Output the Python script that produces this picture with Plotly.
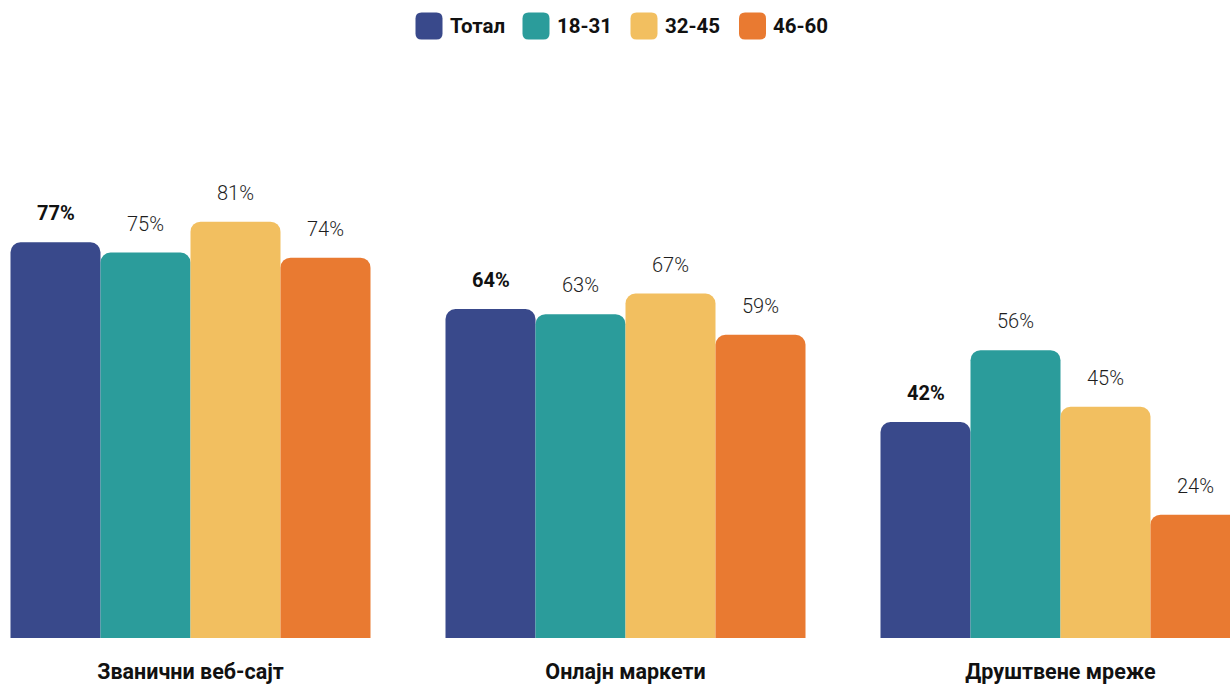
import plotly.graph_objects as go

categories = ["Званични веб-сајт", "Онлајн маркети", "Друштвене мреже"]
series_names = ["Тотал", "18-31", "32-45", "46-60"]
total = [77, 64, 42]
age_18_31 = [75, 63, 56]
age_32_45 = [81, 67, 45]
age_46_60 = [74, 59, 24]
series_values = [total, age_18_31, age_32_45, age_46_60]

colors = ["#39498b", "#2b9c9b", "#f2bf60", "#e97a31"]
FONT = "Roboto"

W, H = 1230, 684
M_T, M_B = 124, 43
GROUP_PX = 435.0
CENTER0_PX = 190.5
BARGAP = 75.0 / GROUP_PX

fig = go.Figure()
for name, vals, col in zip(series_names, series_values, colors):
    fig.add_trace(go.Bar(
        x=categories, y=vals, name=name,
        marker=dict(color=col, cornerradius=10, line=dict(width=0)),
        showlegend=False, hoverinfo="skip",
    ))

# value labels
w = 1 - BARGAP
n = len(series_names)
annotations = []
for k, (name, vals) in enumerate(zip(series_names, series_values)):
    off = -w / 2 + (k + 0.5) * w / n
    for ci, v in enumerate(vals):
        bold = (k == 0)
        annotations.append(dict(
            x=ci + off, y=v, xref="x", yref="y",
            text=f"{v}%", showarrow=False,
            yanchor="middle", yshift=29,
            font=dict(family=FONT, size=20, color="#111111" if bold else "#1e1e1e",
                      weight=700 if bold else 300),
        ))

# manual legend
leg_sq_centers = [429, 536, 644, 752.5]
leg_text_left = [448, 555, 663, 771]
shapes = []
leg_shift = M_T - 26
r, hs = 6, 13.5
for name, col, cx, tx in zip(series_names, colors, leg_sq_centers, leg_text_left):
    y0, y1 = leg_shift - hs, leg_shift + hs
    x0, x1 = -hs, hs
    path = (f"M {x0+r},{y0} L {x1-r},{y0} Q {x1},{y0} {x1},{y0+r} "
            f"L {x1},{y1-r} Q {x1},{y1} {x1-r},{y1} L {x0+r},{y1} "
            f"Q {x0},{y1} {x0},{y1-r} L {x0},{y0+r} Q {x0},{y0} {x0+r},{y0} Z")
    shapes.append(dict(type="path", xref="paper", yref="paper",
                       xsizemode="pixel", ysizemode="pixel",
                       xanchor=cx / W, yanchor=1, path=path,
                       fillcolor=col, line=dict(width=0)))
    annotations.append(dict(
        x=tx / W, y=1, xref="paper", yref="paper", xanchor="left", yanchor="middle",
        yshift=leg_shift, text=name, showarrow=False,
        font=dict(family=FONT, size=20.5, color="#111111", weight=700),
    ))

r0 = -CENTER0_PX / GROUP_PX
r1 = r0 + W / GROUP_PX

fig.update_layout(
    width=W, height=H,
    margin=dict(l=0, r=0, t=M_T, b=M_B, pad=0),
    paper_bgcolor="white", plot_bgcolor="white",
    barmode="group", bargap=BARGAP, bargroupgap=0,
    showlegend=False,
    xaxis=dict(type="category", range=[r0, r1], showgrid=False, zeroline=False,
               showline=False, ticks="", ticklabelstandoff=18,
               tickfont=dict(family=FONT, size=21.5, color="#111111", weight=700)),
    yaxis=dict(range=[0, 100], visible=False),
    annotations=annotations, shapes=shapes,
)

fig.write_html("out.html")
